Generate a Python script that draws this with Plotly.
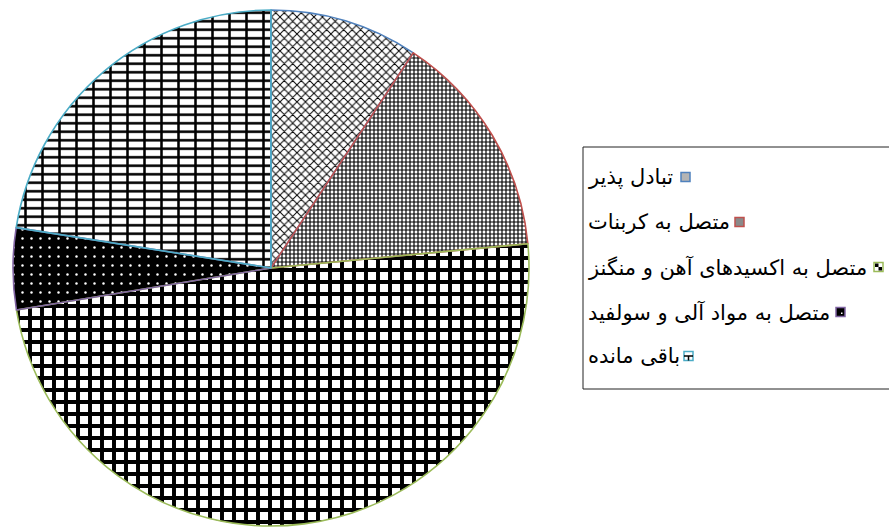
import plotly.graph_objects as go

# Fractions of the metal held in each soil phase (percent)
labels = [
    "تبادل پذیر",
    "متصل به کربنات",
    "متصل به اکسیدهای آهن و منگنز",
    "متصل به مواد آلی و سولفید",
    "باقی مانده",
]
shares = [9.3, 14.2, 48.9, 5.1, 22.5]
edge_colors = ["#4F81BD", "#C0504D", "#9BBB59", "#8064A2", "#4BACC6"]

W, H = 889, 527
cx, cy, r = 271, 268, 258
pie_domain = dict(
    x=[(cx - r) / W, (cx + r) / W],
    y=[1 - (cy + r) / H, 1 - (cy - r) / H],
)
common = dict(
    values=shares,
    labels=labels,
    sort=False,
    direction="clockwise",
    rotation=0,
    domain=pie_domain,
    textinfo="none",
    showlegend=False,
)
clear = "rgba(0,0,0,0)"

# hatch fills for each slice
base = go.Pie(
    **common,
    hoverinfo="label+percent",
    marker=dict(
        colors=["white", "white", "white", "black", "white"],
        line=dict(width=0),
        pattern=dict(
            shape=["x", "+", "+", ".", "-"],
            size=[6, 4, 12, 9, 8.5],
            solidity=[0.3, 0.5, 0.55, 0.06, 0.3],
            fgcolor=["black", "black", "black", "white", "black"],
            bgcolor=["white", "white", "white", "black", "white"],
            fillmode="replace",
        ),
    ),
)
# vertical joints of the brick fill
joints = go.Pie(
    **common,
    hoverinfo="skip",
    marker=dict(
        colors=[clear] * 5,
        line=dict(width=0),
        pattern=dict(
            shape=["", "", "", "", "|"],
            size=17,
            solidity=0.15,
            fgcolor="black",
            bgcolor=clear,
            fillmode="replace",
        ),
    ),
)
# coloured slice outlines on top
outlines = go.Pie(
    **common,
    hoverinfo="skip",
    marker=dict(colors=[clear] * 5, line=dict(color=edge_colors, width=1.6)),
)

fig = go.Figure([base, joints, outlines])

# legend drawn by hand: text first, swatch right after it
text_left = 586
row_y = [177, 222, 267, 312, 356]
swatch_left = [681, 735, 874, 836, 684]
sw = 9
shapes = [
    dict(type="rect", xref="paper", yref="paper",
         x0=583 / W, x1=1.02, y0=1 - 389 / H, y1=1 - 147 / H,
         line=dict(color="#222222", width=1), fillcolor="white", layer="below"),
]
annotations = []


def box(x0, y0, x1, y1, fill, line_color=None, lw=0):
    return dict(type="rect", xref="paper", yref="paper",
                x0=x0 / W, x1=x1 / W, y0=1 - y1 / H, y1=1 - y0 / H,
                fillcolor=fill, line=dict(color=line_color or fill, width=lw))


swatch_fill = ["#b4b4b4", "#8a8a8a", "white", "black", "white"]
for i, (lab, y, sx, col) in enumerate(zip(labels, row_y, swatch_left, edge_colors)):
    annotations.append(dict(
        text=lab, xref="paper", yref="paper", x=text_left / W, y=1 - y / H,
        xanchor="left", yanchor="middle", showarrow=False,
        font=dict(family="DejaVu Sans", size=21, color="black"),
    ))
    y0 = y - sw / 2
    shapes.append(box(sx, y0, sx + sw, y0 + sw, swatch_fill[i], col, 1.5))
    if i == 2:
        h = sw / 2
        shapes.append(box(sx + 1, y0 + 1, sx + h, y0 + h, "black"))
        shapes.append(box(sx + h, y0 + h, sx + sw - 1, y0 + sw - 1, "black"))
    elif i == 3:
        shapes.append(box(sx + 5, y0 + 5, sx + 6.5, y0 + 6.5, "white"))
    elif i == 4:
        shapes.append(dict(type="line", xref="paper", yref="paper",
                           x0=sx / W, x1=(sx + sw) / W,
                           y0=1 - (y0 + 4.5) / H, y1=1 - (y0 + 4.5) / H,
                           line=dict(color="black", width=1.5)))
        shapes.append(dict(type="line", xref="paper", yref="paper",
                           x0=(sx + 4.5) / W, x1=(sx + 4.5) / W,
                           y0=1 - (y0 + 4.5) / H, y1=1 - (y0 + sw) / H,
                           line=dict(color="black", width=1.5)))

fig.update_layout(
    width=W, height=H,
    margin=dict(l=0, r=0, t=0, b=0),
    paper_bgcolor="white",
    plot_bgcolor="white",
    shapes=shapes,
    annotations=annotations,
)

fig.write_html("out.html")
